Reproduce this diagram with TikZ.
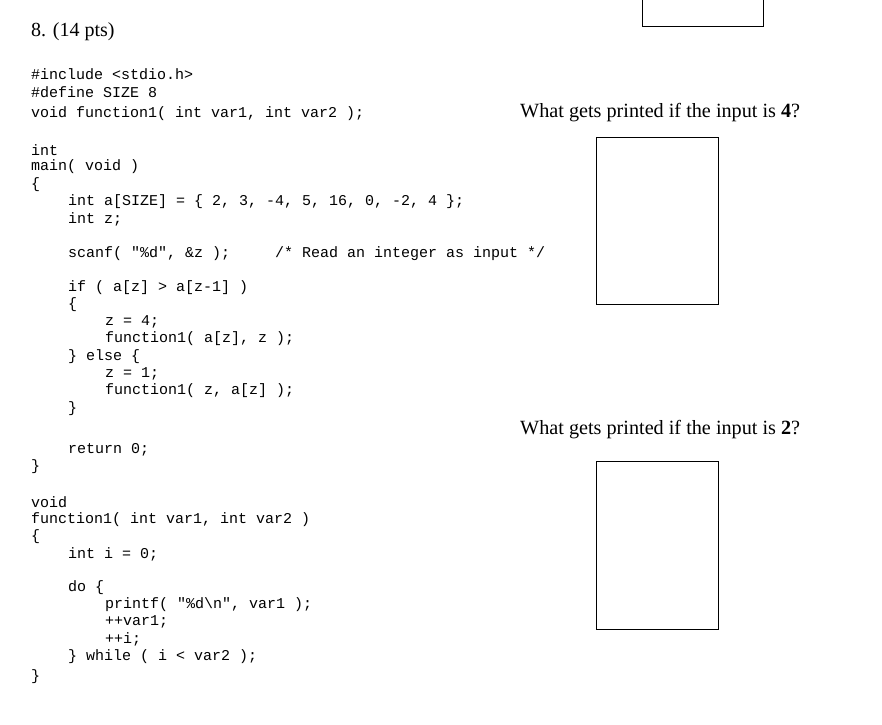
\documentclass[tikz,border=0pt]{standalone}
\usepackage{fontspec}
\setmainfont{Liberation Serif}
\setmonofont{Liberation Mono}
\begin{document}
\begin{tikzpicture}[x=1pt,y=-1pt,
 code/.style={anchor=west,inner sep=0pt,font=\ttfamily\fontsize{15}{17}\selectfont},
 q/.style={anchor=west,inner sep=0pt,font=\fontsize{20.2}{22}\selectfont},
 ansbox/.style={draw,line width=0.8pt}]
\useasboundingbox (0,0) rectangle (882,724);
\node[anchor=west,inner sep=0pt,font=\fontsize{20}{22}\selectfont] (title) at (31,32) {8. (14 pts)};
\draw[ansbox] (642,-1) rectangle (763,26);
\foreach \y/\x/\t [count=\i] in {
74/31/{\#include <stdio.h>},
92/31/{\#define SIZE 8},
114/31/{void function1( int var1, int var2 );},
150/31/{int},
167/31/{main( void )},
185/31/{\{},
202/68/{int a[SIZE] = \{ 2, 3, -4, 5, 16, 0, -2, 4 \};},
219/68/{int z;},
254/68/{scanf( "\%d", \&z );},
288/68/{if ( a[z] > a[z-1] )},
305/68/{\{},
322/105/{z = 4;},
339/105/{function1( a[z], z );},
357/68/{\} else \{},
374/105/{z = 1;},
391/105/{function1( z, a[z] );},
409/68/{\}},
450/68/{return 0;},
467/31/{\}},
502/31/{void},
520/31/{function1( int var1, int var2 )},
537/31/{\{},
554/68/{int i = 0;},
588/68/{do \{},
605/105/{printf( "\%d\textbackslash n", var1 );},
622/105/{++var1;},
639/105/{++i;},
657/68/{\} while ( i < var2 );},
677/31/{\}}}
 \node[code] (c\i) at (\x,\y) {\t};
\node[code] (cmt) at (275,254) {/* Read an integer as input */};
\node[q] (q1) at (520,113) {What gets printed if the input is \textbf{4}?};
\draw[ansbox] (596,137) rectangle (718,304);
\node[q] (q2) at (520,430) {What gets printed if the input is \textbf{2}?};
\draw[ansbox] (596,461) rectangle (718,629);
\end{tikzpicture}
\end{document}
